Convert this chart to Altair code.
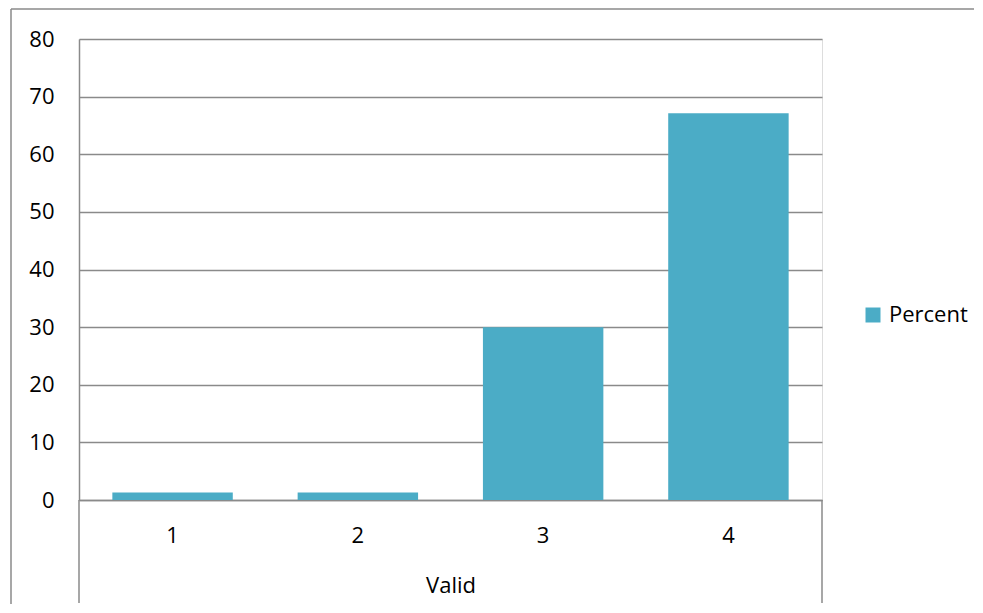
import altair as alt
import pandas as pd

categories = ["1", "2", "3", "4"]
percent = [1.3, 1.3, 30.0, 67.1]
series_name = "Percent"
y_ticks = [0, 10, 20, 30, 40, 50, 60, 70, 80]
group_label = "Valid"

df = pd.DataFrame({"cat": categories, "value": percent, "series": [series_name] * len(categories)})

FONT = "Open Sans"
GRAY = "#8a8a8a"
W, H = 743, 461

bars = alt.Chart(df).mark_bar(color="#4BACC6").encode(
    x=alt.X("cat:N", sort=categories,
            scale=alt.Scale(paddingInner=0.35, paddingOuter=0.18),
            axis=alt.Axis(title=group_label, labelAngle=0, ticks=False, domain=True,
                          domainColor=GRAY, domainWidth=1.5,
                          labelFont=FONT, labelFontSize=22, labelColor="black",
                          labelBaseline="middle", labelPadding=35,
                          titleFont=FONT, titleFontSize=22, titleFontWeight="normal",
                          titleColor="black", titleBaseline="middle", titleY=85)),
    y=alt.Y("value:Q", scale=alt.Scale(domain=[0, 80], nice=False),
            axis=alt.Axis(title=None, values=y_ticks, ticks=False, domain=True,
                          domainColor=GRAY, domainWidth=1.5,
                          grid=True, gridColor=GRAY, gridWidth=1.5,
                          labelFont=FONT, labelFontSize=22, labelColor="black",
                          labelPadding=25)),
    color=alt.Color("series:N", scale=alt.Scale(range=["#4BACC6"]),
                    legend=alt.Legend(title=None, orient="none", legendX=783, legendY=265,
                                      symbolType="square", symbolSize=225,
                                      symbolStrokeWidth=0, labelOffset=5,
                                      labelFont=FONT, labelFontSize=22,
                                      labelColor="black", padding=0)),
)

one = pd.DataFrame({"k": [0]})

left_ext = alt.Chart(one).mark_rule(color=GRAY, strokeWidth=1.5).encode(
    x=alt.value(0), y=alt.value(H), y2=alt.value(H + 103))
right_ext = alt.Chart(one).mark_rule(color=GRAY, strokeWidth=1.5).encode(
    x=alt.value(W), y=alt.value(H), y2=alt.value(H + 103))
frame_top = alt.Chart(one).mark_rule(color=GRAY, strokeWidth=1.5).encode(
    x=alt.value(-68), x2=alt.value(W + 170), y=alt.value(-30))
frame_left = alt.Chart(one).mark_rule(color=GRAY, strokeWidth=1.5).encode(
    x=alt.value(-68), y=alt.value(-30), y2=alt.value(H + 120))

chart = alt.layer(bars, left_ext, right_ext, frame_top, frame_left).properties(
    width=W, height=H,
    autosize=alt.AutoSizeParams(type="none"),
    padding={"left": 71, "top": 31, "right": 152, "bottom": 104},
).configure_view(stroke=None).configure(background="white")

chart.save("out.html", embed_options={"renderer": "svg", "actions": False})
